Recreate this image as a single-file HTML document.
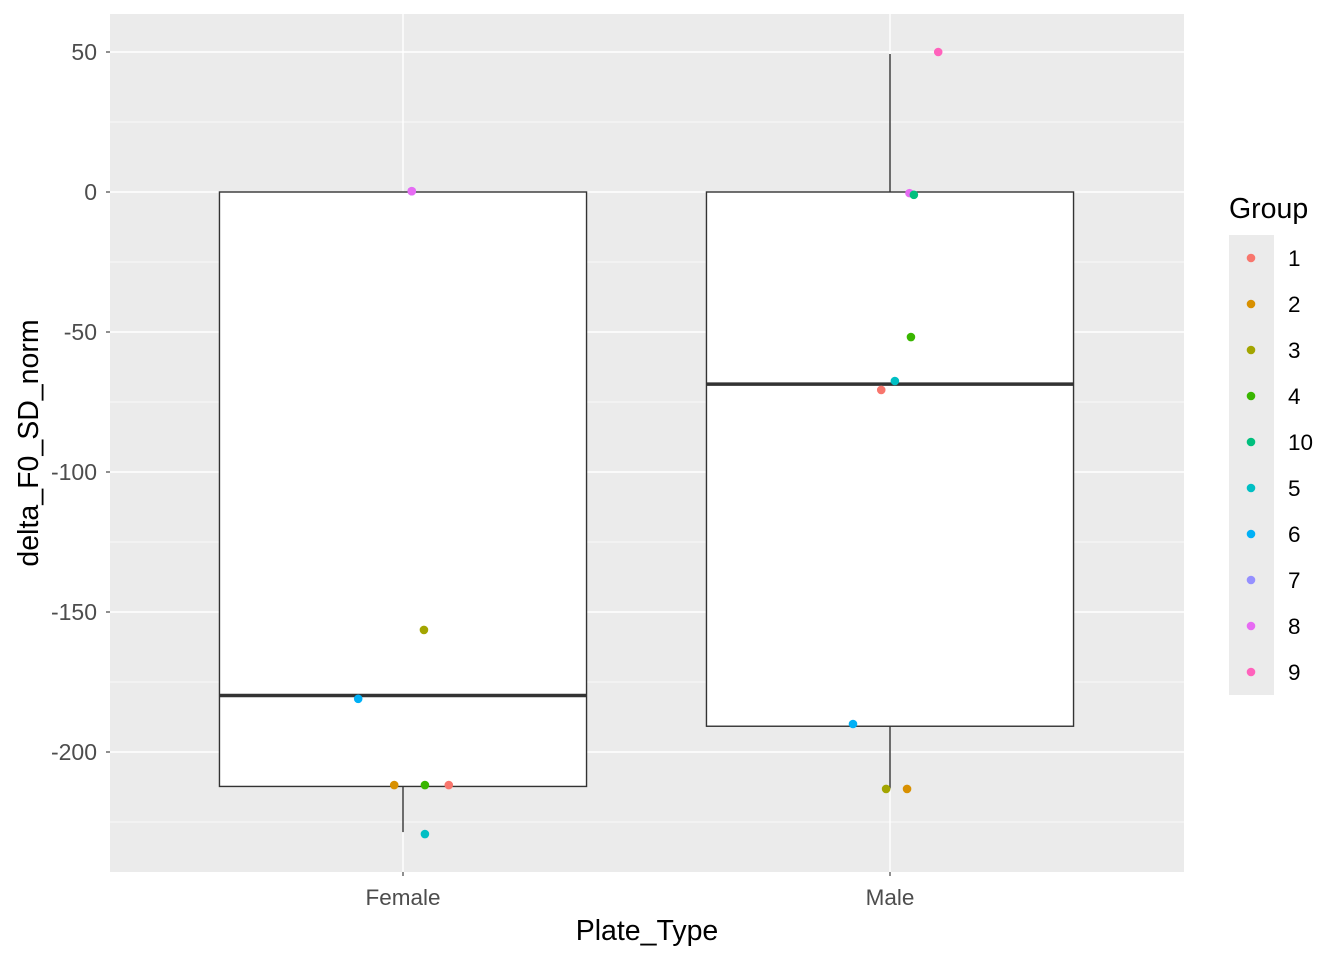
<!DOCTYPE html>
<html><head><meta charset="utf-8"><style>
body{margin:0;background:#fff;}
svg{display:block;font-family:"Liberation Sans",Arial,sans-serif;}
</style></head><body>
<svg id="chart" width="1344" height="960"></svg>
<script>
const categories = ["Female","Male"];
const q1 = [-212.3, -190.8];
const median = [-179.8, -68.6];
const q3 = [0, 0];
const whiskLow = [-228.6, -213];
const whiskHigh = [0, 49.3];
const groups = ["1","2","3","4","10","5","6","7","8","9"];
const colors = ["#F8766D","#D89000","#A3A500","#39B600","#00BF7D","#00BFC4","#00B0F6","#9590FF","#E76BF3","#FF62BC"];
const ptCat = [0,0,0,0,0,0,0,0, 1,1,1,1,1,1,1,1,1];
const ptGroup = ["7","8","3","6","2","4","1","5", "9","8","10","4","1","5","6","3","2"];
const ptJitter = [0.018,0.018,0.043,-0.092,-0.018,0.045,0.094,0.045, 0.099,0.04,0.049,0.043,-0.018,0.01,-0.076,-0.008,0.035];
const ptValue = [0.3,0.3,-156.4,-181,-211.8,-211.8,-211.8,-229.3, 50,-0.4,-1,-51.8,-70.7,-67.5,-190,-213.2,-213.2];
const yTicks = [50,0,-50,-100,-150,-200];
const yMinor = [25,-25,-75,-125,-175,-225];

const svg = document.getElementById('chart');
const NS = "http://www.w3.org/2000/svg";
const L=110,R=1184,T=14,B=872;
const y = v => 192 - v*2.8;
const xc = i => 403 + i*487;
const bw = 0.75*487/2*1.005;
function mk(tag, attrs, parent){const e=document.createElementNS(NS,tag);for(const k in attrs)e.setAttribute(k,attrs[k]);(parent||svg).appendChild(e);return e;}

let bg = mk('rect',{x:L,y:T,width:R-L,height:B-T,fill:'#EBEBEB'});


yMinor.forEach(v=>{let l=mk('line',{x1:L,x2:R,y1:y(v),y2:y(v),stroke:'#fff','stroke-width':0.7});

});
yTicks.forEach(v=>{let l=mk('line',{x1:L,x2:R,y1:y(v),y2:y(v),stroke:'#fff','stroke-width':1.4});


let t=mk('text',{x:97,y:y(v)+8,'text-anchor':'end','font-size':'23',fill:'#4D4D4D'});t.textContent=String(v);


mk('line',{x1:L-4,x2:L,y1:y(v),y2:y(v),stroke:'#333','stroke-width':1.1});});
categories.forEach((c,i)=>{let l=mk('line',{x1:xc(i),x2:xc(i),y1:T,y2:B,stroke:'#fff','stroke-width':1.4});


mk('line',{x1:xc(i),x2:xc(i),y1:B,y2:B+4,stroke:'#333','stroke-width':1.1});
let t=mk('text',{x:xc(i),y:B+33,'text-anchor':'middle','font-size':'22.5',fill:'#4D4D4D'});t.textContent=c;

});
categories.forEach((c,i)=>{const g=mk('g',{});


mk('line',{x1:xc(i),x2:xc(i),y1:y(q3[i]),y2:y(whiskHigh[i]),stroke:'#333','stroke-width':1.4},g);
mk('line',{x1:xc(i),x2:xc(i),y1:y(q1[i]),y2:y(whiskLow[i]),stroke:'#333','stroke-width':1.4},g);
mk('rect',{x:xc(i)-bw,y:y(q3[i]),width:2*bw,height:y(q1[i])-y(q3[i]),fill:'#fff',stroke:'#333','stroke-width':1.4},g);
mk('line',{x1:xc(i)-bw,x2:xc(i)+bw,y1:y(median[i]),y2:y(median[i]),stroke:'#333','stroke-width':3.5},g);});
ptValue.forEach((v,k)=>{let p=mk('circle',{cx:xc(ptCat[k])+ptJitter[k]*487,cy:y(v),r:4.3,fill:colors[groups.indexOf(ptGroup[k])]});

});
let xt=mk('text',{x:(L+R)/2,y:940,'text-anchor':'middle','font-size':'28.5',fill:'#000'});xt.textContent='Plate_Type';


let yt=mk('text',{x:0,y:0,'text-anchor':'middle','font-size':'28.5',fill:'#000',transform:'translate(38,443) rotate(-90)'});yt.textContent='delta_F0_SD_norm';


const lg=mk('g',{});


let lt=mk('text',{x:1229,y:218,'font-size':'28.5',fill:'#000'},lg);lt.textContent='Group';
mk('rect',{x:1229,y:235,width:45,height:460,fill:'#EBEBEB'},lg);
groups.forEach((g,i)=>{const e=mk('g',{},lg);


mk('circle',{cx:1251,cy:258+i*46,r:4.3,fill:colors[i]},e);
let t=mk('text',{x:1288,y:266+i*46,'font-size':'22.5',fill:'#000'},e);t.textContent=g;});
</script>
</body></html>
